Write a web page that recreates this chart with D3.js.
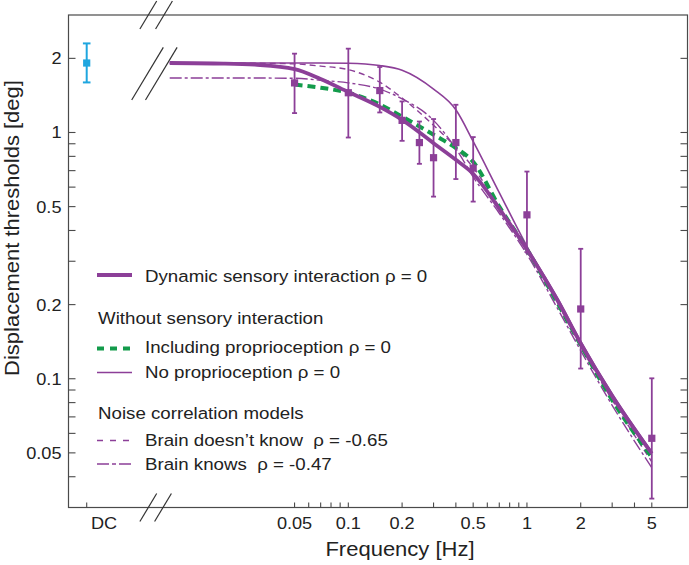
<!DOCTYPE html>
<html>
<head>
<meta charset="utf-8">
<script src="https://cdn.jsdelivr.net/npm/d3@7"></script>
<style>
  html, body { margin: 0; padding: 0; background: #fff; }
  svg { display: block; }
  text { font-family: "Liberation Sans", Arial, Helvetica, sans-serif; fill: #222; white-space: pre; }
</style>
</head>
<body>
<svg id="chart" width="689" height="565"></svg>
<script>
// ---------------- data ----------------
const freqs = [0.01, 0.02, 0.03, 0.05, 0.07, 0.1, 0.15, 0.2, 0.3, 0.4, 0.5, 0.7, 1, 1.5, 2, 3, 5];
const dynamicRho0   = [1.915, 1.905, 1.885, 1.81, 1.65, 1.46, 1.27, 1.125, 0.905, 0.775, 0.68, 0.49, 0.335, 0.205, 0.139, 0.085, 0.0497];
const noProprio     = [1.915, 1.915, 1.915, 1.915, 1.915, 1.91, 1.87, 1.79, 1.50, 1.236, 0.92, 0.57, 0.345, 0.21, 0.142, 0.087, 0.0505];
const brainNotKnow  = [1.915, 1.912, 1.91, 1.90, 1.86, 1.80, 1.60, 1.38, 1.07, 0.87, 0.72, 0.5, 0.33, 0.2, 0.135, 0.082, 0.046];
const brainKnows    = [1.664, 1.664, 1.664, 1.66, 1.63, 1.59, 1.50, 1.37, 1.12, 0.86, 0.66, 0.47, 0.32, 0.19, 0.13, 0.078, 0.0435];
const greenFreqs    = [0.05, 0.07, 0.1, 0.15, 0.2, 0.3, 0.4, 0.5, 0.7, 1, 1.5, 2, 3, 5];
const inclProprio   = [1.565, 1.52, 1.45, 1.30, 1.16, 0.98, 0.865, 0.76, 0.5, 0.335, 0.2, 0.137, 0.082, 0.048];

const dataFreqs = [0.05, 0.1, 0.15, 0.2, 0.25, 0.3, 0.4, 0.5, 1, 2, 5];
const dataMean  = [1.59, 1.45, 1.48, 1.12, 0.91, 0.79, 0.91, 0.717, 0.463, 0.192, 0.0573];
const dataHigh  = [2.09, 2.19, 1.845, 1.337, 1.108, 1.134, 1.296, 0.958, 0.694, 0.337, 0.1004];
const dataLow   = [1.199, 0.954, 1.206, 0.925, 0.746, 0.549, 0.647, 0.524, 0.327, 0.110, 0.0326];

const dcMean = 1.915, dcHigh = 2.30, dcLow = 1.597;

const yMajorTicks = [0.05, 0.1, 0.2, 0.5, 1, 2];
const yMajorLabels = ["0.05", "0.1", "0.2", "0.5", "1", "2"];
const yMinorTicks = [0.04, 0.06, 0.07, 0.08, 0.09, 0.3, 0.4, 0.6, 0.7, 0.8, 0.9];
const xMajorTicks = [0.05, 0.1, 0.2, 0.5, 1, 2, 5];
const xMajorLabels = ["0.05", "0.1", "0.2", "0.5", "1", "2", "5"];
const xMinorTicks = [0.06, 0.07, 0.08, 0.09, 0.3, 0.4, 0.6, 0.7, 0.8, 0.9, 3, 4];

// ---------------- layout ----------------
const PURPLE = "#8c3f98", GREEN = "#139b4b", CYAN = "#1fa6df", AX = "#4a4a4a";
const L = 68.5, R = 687.5, T = 15, B = 507.5;
const xDC = 86.7;
const x = d3.scaleLog().domain([0.01, 5]).range([169.7, 651.8]);
const y = d3.scaleLog().domain([0.03, 3]).range([B, T]);
const SX = 1.1;

const svg = d3.select("#chart");

function txt(px, py, s, size, anchor, rot) {
  return svg.append("text")
    .attr("transform", `translate(${px},${py})` + (rot ? ` rotate(${rot})` : "") + ` scale(${SX},1)`)
    .attr("text-anchor", anchor || "start")
    .attr("font-size", size)
    .text(s);
}

// frame
svg.append("rect").attr("x", L).attr("y", T).attr("width", R - L).attr("height", B - T)
  .attr("fill", "none").attr("stroke", AX).attr("stroke-width", 1.2);

// y ticks (left & right, inward)
const yAll = yMajorTicks.concat(yMinorTicks);
yAll.forEach(v => {
  svg.append("line").attr("x1", L).attr("x2", L + 7).attr("y1", y(v)).attr("y2", y(v)).attr("stroke", AX).attr("stroke-width", 1.1);
  svg.append("line").attr("x1", R).attr("x2", R - 7).attr("y1", y(v)).attr("y2", y(v)).attr("stroke", AX).attr("stroke-width", 1.1);
});
yMajorTicks.forEach((v, i) => txt(61.5, y(v) + 6, yMajorLabels[i], 16.5, "end"));

// x ticks
const xAll = xMajorTicks.concat(xMinorTicks);
xAll.forEach(v => {
  svg.append("line").attr("x1", x(v)).attr("x2", x(v)).attr("y1", B).attr("y2", B - 5).attr("stroke", AX).attr("stroke-width", 1.1);
});
svg.append("line").attr("x1", xDC).attr("x2", xDC).attr("y1", B).attr("y2", B - 5).attr("stroke", AX).attr("stroke-width", 1.1);
xMajorTicks.forEach((v, i) => txt(x(v), 528.5, xMajorLabels[i], 16.5, "middle"));
txt(104, 528.5, "DC", 16.5, "middle");

// axis titles
txt(400, 556, "Frequency [Hz]", 20, "middle");
txt(19, 228, "Displacement thresholds [deg]", 20, "middle", -90);

// break marks
function breakMark(cx, cy, h) {
  const w = h * 0.6;
  svg.append("line").attr("x1", cx - w / 2).attr("y1", cy + h / 2).attr("x2", cx + w / 2).attr("y2", cy - h / 2)
    .attr("stroke", "#333").attr("stroke-width", 1.2);
}
breakMark(148.3, B, 28); breakMark(163, B, 28);
breakMark(148.3, T, 28); breakMark(164, T, 28);
// white gap behind curve-break marks not needed; draw marks on curves
// curves
const line = d3.line().x(d => x(d[0])).y(d => y(d[1])).curve(d3.curveMonotoneX);
const g = svg.append("g").attr("fill", "none");
g.append("path").datum(freqs.map((f, i) => [f, noProprio[i]])).attr("d", line)
  .attr("stroke", PURPLE).attr("stroke-width", 1.6);
g.append("path").datum(freqs.map((f, i) => [f, brainNotKnow[i]])).attr("d", line)
  .attr("stroke", PURPLE).attr("stroke-width", 1.4).attr("stroke-dasharray", "6,4");
g.append("path").datum(freqs.map((f, i) => [f, brainKnows[i]])).attr("d", line)
  .attr("stroke", PURPLE).attr("stroke-width", 1.4).attr("stroke-dasharray", "12,3,3,3");
g.append("path").datum(greenFreqs.map((f, i) => [f, inclProprio[i]])).attr("d", line)
  .attr("stroke", GREEN).attr("stroke-width", 4).attr("stroke-dasharray", "8,5");
g.append("path").datum(freqs.map((f, i) => [f, dynamicRho0[i]])).attr("d", line)
  .attr("stroke", PURPLE).attr("stroke-width", 3.8);

breakMark(147.5, 73.7, 52.7); breakMark(161.3, 73.7, 52.7);

// data points
const dp = svg.append("g");
dataFreqs.forEach((f, i) => {
  const cx = x(f);
  dp.append("line").attr("x1", cx).attr("x2", cx).attr("y1", y(dataHigh[i])).attr("y2", y(dataLow[i])).attr("stroke", PURPLE).attr("stroke-width", 1.8);
  [dataHigh[i], dataLow[i]].forEach(v => dp.append("line").attr("x1", cx - 2.5).attr("x2", cx + 2.5).attr("y1", y(v)).attr("y2", y(v)).attr("stroke", PURPLE).attr("stroke-width", 1.8));
  dp.append("rect").attr("x", cx - 3.6).attr("y", y(dataMean[i]) - 3.6).attr("width", 7.2).attr("height", 7.2).attr("fill", PURPLE);
});
// DC point
dp.append("line").attr("x1", xDC).attr("x2", xDC).attr("y1", y(dcHigh)).attr("y2", y(dcLow)).attr("stroke", CYAN).attr("stroke-width", 2);
[dcHigh, dcLow].forEach(v => dp.append("line").attr("x1", xDC - 3.8).attr("x2", xDC + 3.8).attr("y1", y(v)).attr("y2", y(v)).attr("stroke", CYAN).attr("stroke-width", 2));
dp.append("rect").attr("x", xDC - 3.6).attr("y", y(dcMean) - 3.6).attr("width", 7.2).attr("height", 7.2).attr("fill", CYAN);

// legend
const lg = svg.append("g");
function legLine(yy, stroke, w, dash) {
  const l = lg.append("line").attr("x1", 97).attr("x2", 132).attr("y1", yy).attr("y2", yy).attr("stroke", stroke).attr("stroke-width", w);
  if (dash) l.attr("stroke-dasharray", dash);
}
legLine(275, PURPLE, 4);
txt(145, 281.7, "Dynamic sensory interaction ρ = 0", 17, "start");
txt(98, 324, "Without sensory interaction", 17, "start");
legLine(348.5, GREEN, 4, "7,6");
txt(145, 353.3, "Including proprioception ρ = 0", 17, "start");
legLine(372.5, PURPLE, 1.6);
txt(145, 378.3, "No proprioception ρ = 0", 17, "start");
txt(98, 419.3, "Noise correlation models", 17, "start");
legLine(440.5, PURPLE, 1.4, "6,7");
txt(145, 445.7, "Brain doesn\u2019t know  ρ = -0.65", 17, "start");
legLine(464, PURPLE, 1.4, "12,3,4,3");
txt(145, 470, "Brain knows  ρ = -0.47", 17, "start");
</script>
</body>
</html>
